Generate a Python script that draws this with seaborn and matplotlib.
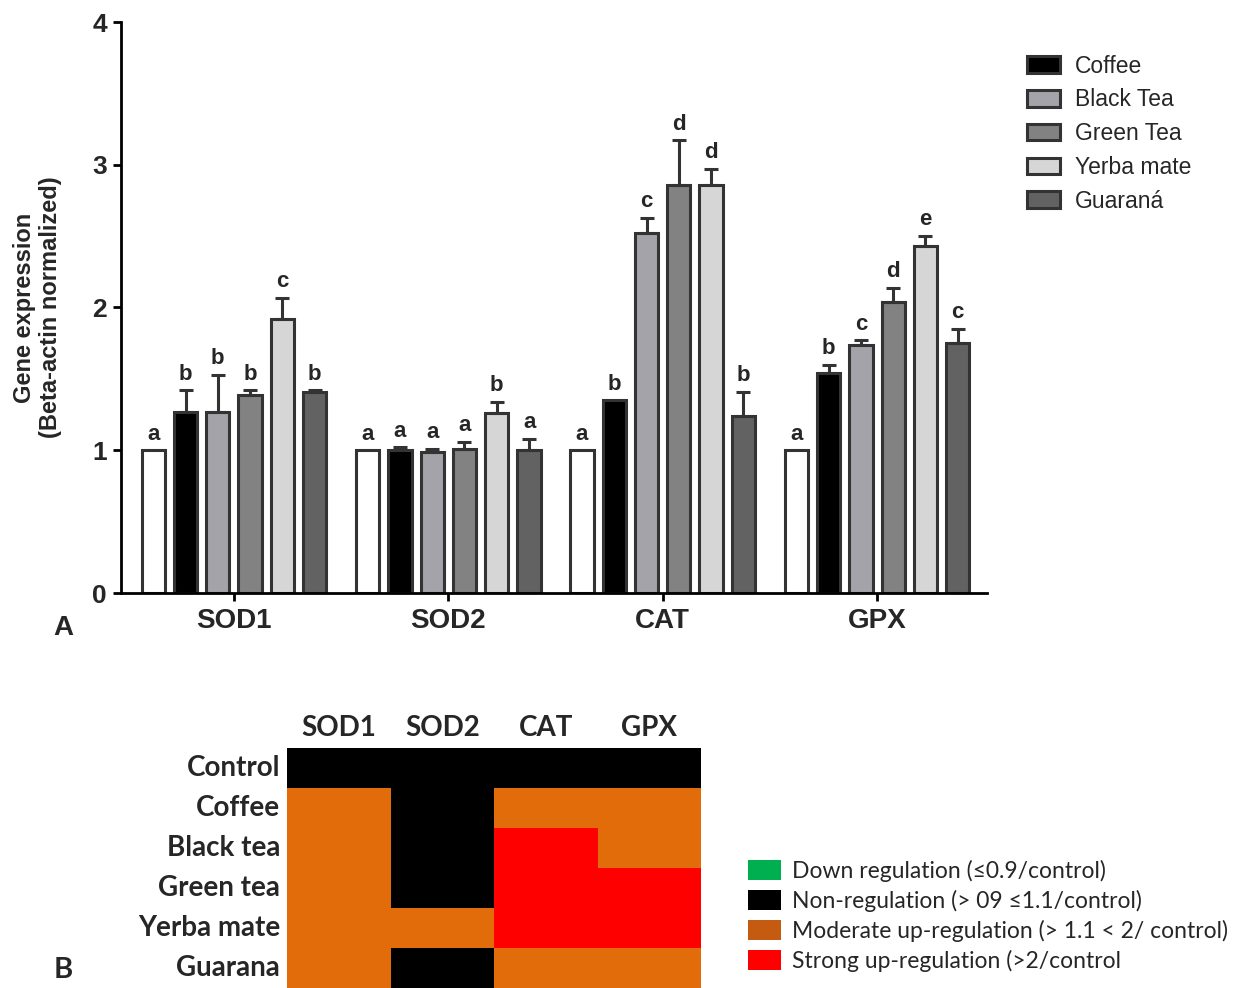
import numpy as np
import pandas as pd
import matplotlib
matplotlib.use("Agg")
import matplotlib.pyplot as plt
from matplotlib.colors import ListedColormap
from matplotlib.patches import Patch
from matplotlib.container import BarContainer
import seaborn as sns

# datos del panel A
genes = ["SOD1", "SOD2", "CAT", "GPX"]
tratamientos = ["Control", "Coffee", "Black Tea", "Green Tea", "Yerba mate", "Guaraná"]
valores = {
    "SOD1": [1.00, 1.27, 1.27, 1.39, 1.92, 1.41],
    "SOD2": [1.00, 1.00, 0.99, 1.01, 1.26, 1.00],
    "CAT":  [1.00, 1.35, 2.52, 2.86, 2.86, 1.24],
    "GPX":  [1.00, 1.54, 1.74, 2.04, 2.43, 1.75],
}
errores = {
    "SOD1": [0.00, 0.15, 0.26, 0.03, 0.15, 0.01],
    "SOD2": [0.00, 0.02, 0.02, 0.05, 0.08, 0.08],
    "CAT":  [0.00, 0.00, 0.11, 0.31, 0.11, 0.17],
    "GPX":  [0.00, 0.06, 0.03, 0.10, 0.07, 0.10],
}
letras = {
    "SOD1": ["a", "b", "b", "b", "c", "b"],
    "SOD2": ["a", "a", "a", "a", "b", "a"],
    "CAT":  ["a", "b", "c", "d", "d", "b"],
    "GPX":  ["a", "b", "c", "d", "e", "c"],
}
colores = ["#ffffff", "#000000", "#a2a2aa", "#828282", "#d6d6d6", "#626262"]

# datos del panel B (0=down, 1=non, 2=moderate, 3=strong)
filas_b = ["Control", "Coffee", "Black tea", "Green tea", "Yerba mate", "Guarana"]
columnas_b = ["SOD1", "SOD2", "CAT", "GPX"]
regulacion = [
    [1, 1, 1, 1],
    [2, 1, 2, 2],
    [2, 1, 3, 2],
    [2, 1, 3, 3],
    [2, 2, 3, 3],
    [2, 1, 2, 2],
]
etiquetas_b = ["Down regulation (≤0.9/control)",
               "Non-regulation (> 09 ≤1.1/control)",
               "Moderate up-regulation (> 1.1 < 2/ control)",
               "Strong up-regulation (>2/control"]
colores_heat = ["#00b050", "#000000", "#e26b0a", "#ff0000"]
colores_leyenda_b = ["#00b050", "#000000", "#c55a11", "#ff0000"]

sns.set_style("white")
plt.rcParams["font.family"] = ["Liberation Sans", "DejaVu Sans"]

df = pd.DataFrame([(g, t, valores[g][i]) for g in genes for i, t in enumerate(tratamientos)],
                  columns=["gen", "tratamiento", "valor"])

fig = plt.figure(figsize=(12.44, 9.88), dpi=100)
ax = fig.add_axes([121 / 1244, 1 - 593 / 988, 866 / 1244, 571 / 988])

sns.barplot(data=df, x="gen", y="valor", hue="tratamiento", order=genes,
            hue_order=tratamientos, palette=dict(zip(tratamientos, colores)),
            width=0.904, gap=0.28, edgecolor="#333333", linewidth=2.2, ax=ax)

barras = [c for c in ax.containers if isinstance(c, BarContainer)]
for i, cont in enumerate(barras):
    for j, barra in enumerate(cont):
        g = genes[j]
        xc = barra.get_x() + barra.get_width() / 2
        v = valores[g][i]
        e = errores[g][i]
        if e > 0:
            ax.errorbar(xc, v, yerr=[[0], [e]], fmt="none", ecolor="#333333",
                        elinewidth=2.2, capsize=5, capthick=2.2, zorder=1)
        ax.text(xc, v + e + 0.04, letras[g][i], ha="center", va="bottom",
                fontsize=16, fontweight="bold")

ax.set_ylim(0, 4)
ax.set_xlim(-0.527, 3.513)
ax.set_yticks([0, 1, 2, 3, 4])
ax.set_xlabel("")
ax.set_ylabel("Gene expression\n(Beta-actin normalized)", fontsize=17, fontweight="bold")
ax.yaxis.set_label_coords(-0.068, 0.5)
sns.despine(ax=ax)
for s in ["left", "bottom"]:
    ax.spines[s].set_linewidth(2)
    ax.spines[s].set_color("black")
ax.tick_params(axis="both", direction="out", length=6, width=2, color="black", left=True, bottom=True)
ax.tick_params(axis="y", labelsize=19, pad=4)
ax.tick_params(axis="x", labelsize=20, pad=5)
for lbl in ax.get_xticklabels() + ax.get_yticklabels():
    lbl.set_fontweight("bold")

h, l = ax.get_legend_handles_labels()
ax.legend(h[1:], l[1:], loc="upper left", bbox_to_anchor=(1.0224, 0.979), frameon=False,
          fontsize=16.5, handlelength=1.44, handleheight=0.74, labelspacing=0.47, handletextpad=0.65)
fig.text(63 / 1244, 1 - 628 / 988, "A", fontsize=20, fontweight="bold", ha="center", va="center")

# panel B
axh = fig.add_axes([287 / 1244, 0.0, 414 / 1244, 240 / 988])
mat = pd.DataFrame(regulacion, index=filas_b, columns=columnas_b)
sns.heatmap(mat, cmap=ListedColormap(colores_heat), vmin=-0.5, vmax=3.5, cbar=False,
            ax=axh, linewidths=0)
axh.xaxis.tick_top()
axh.tick_params(axis="both", length=0, pad=5)
for lbl in axh.get_xticklabels() + axh.get_yticklabels():
    lbl.set_fontweight("bold")
    lbl.set_fontsize(20)
    lbl.set_family(["Lato", "DejaVu Sans"])
    lbl.set_rotation(0)

handles_b = [Patch(facecolor=c, edgecolor="none") for c in colores_leyenda_b]
fig.legend(handles_b, etiquetas_b, loc="upper left", bbox_to_anchor=(727 / 1244, 1 - 839 / 988),
           frameon=False, prop={"family": ["Lato", "DejaVu Sans"], "size": 16.5},
           handlelength=1.44, handleheight=0.96, labelspacing=0.35, handletextpad=0.5)
fig.text(63 / 1244, 1 - 970 / 988, "B", fontsize=21, fontweight="bold", ha="center", va="center",
         family=["Lato", "DejaVu Sans"])

fig.savefig("out.png", dpi=100)
